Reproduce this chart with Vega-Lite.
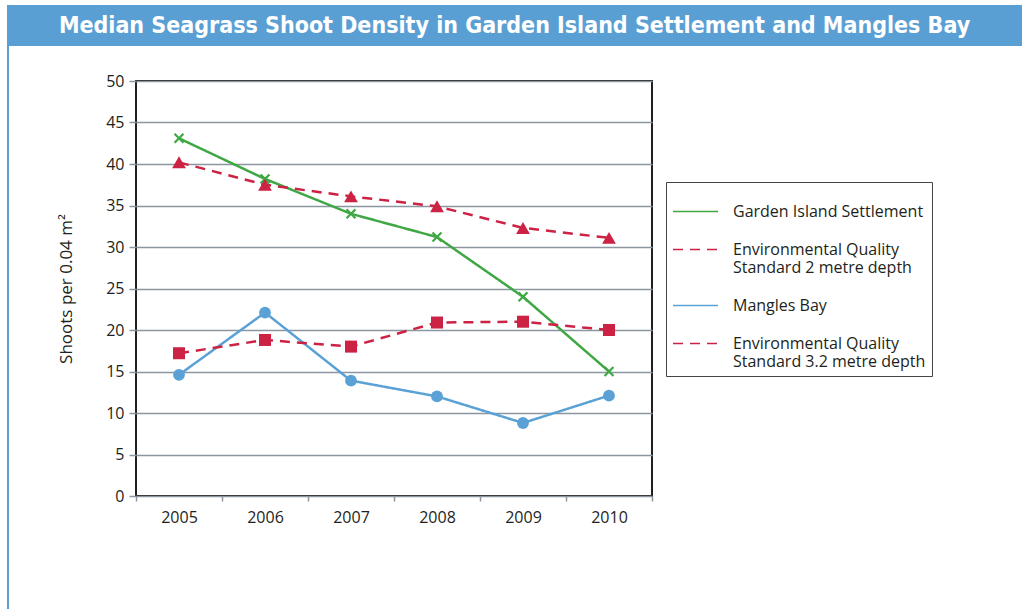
{
  "$schema": "https://vega.github.io/schema/vega-lite/v6.json",
  "padding": {"left": 7, "top": 5, "right": 0, "bottom": 0},
  "background": "white",
  "spacing": 0,
  "bounds": "flush",
  "config": {"font": "Open Sans"},
  "vconcat": [
    {
      "width": 1015,
      "height": 41,
      "view": {"fill": "#5A9FD4", "stroke": null},
      "data": {"values": [{"title": "Median Seagrass Shoot Density in Garden Island Settlement and Mangles Bay"}]},
      "mark": {"type": "text", "color": "white", "font": "Liberation Sans Narrow, DejaVu Sans Condensed, sans-serif", "fontWeight": "bold", "fontSize": 23, "baseline": "middle", "align": "center"},
      "encoding": {"text": {"field": "title"}}
    },
    {
      "width": 2,
      "height": 35,
      "view": {"fill": "#5A9FD4", "stroke": null},
      "data": {"values": [{"a": 1}]},
      "mark": {"type": "rect", "color": "#5A9FD4"},
      "encoding": {}
    },
    {
      "spacing": 127,
      "bounds": "flush",
      "hconcat": [
        {
          "width": 2,
          "height": 528,
          "view": {"fill": "#5A9FD4", "stroke": null},
          "data": {"values": [{"a": 1}]},
          "mark": {"type": "rect", "color": "#5A9FD4"},
          "encoding": {}
        },
        {
          "width": 516,
          "height": 415,
          "view": {"stroke": "#231F20", "strokeWidth": 2},
          "data": {"values": [
            {"year": "2005", "series": "Garden Island Settlement", "value": 43.1},
            {"year": "2006", "series": "Garden Island Settlement", "value": 38.2},
            {"year": "2007", "series": "Garden Island Settlement", "value": 34.0},
            {"year": "2008", "series": "Garden Island Settlement", "value": 31.2},
            {"year": "2009", "series": "Garden Island Settlement", "value": 24.0},
            {"year": "2010", "series": "Garden Island Settlement", "value": 15.0},
            {"year": "2005", "series": "Environmental Quality Standard 2 metre depth", "value": 40.2},
            {"year": "2006", "series": "Environmental Quality Standard 2 metre depth", "value": 37.5},
            {"year": "2007", "series": "Environmental Quality Standard 2 metre depth", "value": 36.1},
            {"year": "2008", "series": "Environmental Quality Standard 2 metre depth", "value": 34.9},
            {"year": "2009", "series": "Environmental Quality Standard 2 metre depth", "value": 32.3},
            {"year": "2010", "series": "Environmental Quality Standard 2 metre depth", "value": 31.1},
            {"year": "2005", "series": "Mangles Bay", "value": 14.6},
            {"year": "2006", "series": "Mangles Bay", "value": 22.1},
            {"year": "2007", "series": "Mangles Bay", "value": 13.9},
            {"year": "2008", "series": "Mangles Bay", "value": 12.0},
            {"year": "2009", "series": "Mangles Bay", "value": 8.8},
            {"year": "2010", "series": "Mangles Bay", "value": 12.1},
            {"year": "2005", "series": "Environmental Quality Standard 3.2 metre depth", "value": 17.2},
            {"year": "2006", "series": "Environmental Quality Standard 3.2 metre depth", "value": 18.8},
            {"year": "2007", "series": "Environmental Quality Standard 3.2 metre depth", "value": 18.0},
            {"year": "2008", "series": "Environmental Quality Standard 3.2 metre depth", "value": 20.9},
            {"year": "2009", "series": "Environmental Quality Standard 3.2 metre depth", "value": 21.0},
            {"year": "2010", "series": "Environmental Quality Standard 3.2 metre depth", "value": 20.0}
          ]},
          "encoding": {
            "x": {
              "field": "year", "type": "ordinal", "bandPosition": 0.5,
              "scale": {"type": "band", "paddingInner": 0, "paddingOuter": 0},
              "axis": {"title": null, "labelAngle": 0, "domain": false, "tickBand": "extent", "tickColor": "#8C96A0", "tickWidth": 1.5, "tickSize": 5, "labelPadding": 8, "labelFontSize": 16, "labelColor": "#231F20", "labelFont": "Open Sans"}
            },
            "y": {
              "field": "value", "type": "quantitative",
              "scale": {"domain": [0, 50], "nice": false},
              "axis": {"title": "Shoots per 0.04 m²", "values": [0,5,10,15,20,25,30,35,40,45,50], "domain": false, "grid": true, "gridColor": "#8C96A0", "gridWidth": 1.5, "tickColor": "#8C96A0", "tickWidth": 1.5, "tickSize": 7, "labelPadding": 5, "labelFontSize": 16, "labelColor": "#231F20", "labelFont": "Open Sans", "titleFontSize": 17, "titleFontWeight": "normal", "titleColor": "#231F20", "titleFont": "Open Sans", "titlePadding": 30}
            }
          },
          "layer": [
            {
              "mark": {"type": "line", "strokeWidth": 2.5},
              "encoding": {
                "color": {
                  "field": "series", "type": "nominal",
                  "scale": {
                    "domain": ["Garden Island Settlement", "Environmental Quality Standard 2 metre depth", "Mangles Bay", "Environmental Quality Standard 3.2 metre depth"],
                    "range": ["#3FA845", "#CC2244", "#5AA2D6", "#CC2244"]
                  },
                  "legend": {
                    "title": null,
                    "orient": "none",
                    "legendX": 659,
                    "legendY": 177,
                    "strokeColor": "#444444",
                    "padding": 6,
                    "symbolSize": 2025,
                    "symbolType": "stroke",
                    "symbolStrokeWidth": 1.5,
                    "labelOffset": 14,
                    "labelFontSize": 16,
                    "labelFont": "Open Sans",
                    "labelColor": "#231F20",
                    "labelLimit": 320,
                    "rowPadding": 6,
                    "labelExpr": "indexof(datum.label, 'Environmental') == 0 ? [slice(datum.label, 0, 21), slice(datum.label, 22)] : datum.label"
                  }
                },
                "strokeDash": {
                  "field": "series", "type": "nominal",
                  "scale": {
                    "domain": ["Garden Island Settlement", "Environmental Quality Standard 2 metre depth", "Mangles Bay", "Environmental Quality Standard 3.2 metre depth"],
                    "range": [[1, 0], [10, 7], [1, 0], [10, 7]]
                  },
                  "legend": null
                }
              }
            },
            {
              "transform": [{"filter": "datum.series == 'Garden Island Settlement'"}],
              "mark": {"type": "point", "filled": true, "opacity": 1, "color": "#3FA845", "size": 110, "shape": "M-1,-0.7L-0.7,-1L0,-0.3L0.7,-1L1,-0.7L0.3,0L1,0.7L0.7,1L0,0.3L-0.7,1L-1,0.7L-0.3,0Z"}
            },
            {
              "transform": [{"filter": "datum.series == 'Environmental Quality Standard 2 metre depth'"}],
              "mark": {"type": "point", "filled": true, "opacity": 1, "color": "#CC2244", "size": 190, "shape": "triangle-up"}
            },
            {
              "transform": [{"filter": "datum.series == 'Mangles Bay'"}],
              "mark": {"type": "point", "filled": true, "opacity": 1, "color": "#5AA2D6", "size": 140, "shape": "circle"}
            },
            {
              "transform": [{"filter": "datum.series == 'Environmental Quality Standard 3.2 metre depth'"}],
              "mark": {"type": "point", "filled": true, "opacity": 1, "color": "#CC2244", "size": 144, "shape": "square"}
            }
          ]
        }
      ]
    }
  ]
}
